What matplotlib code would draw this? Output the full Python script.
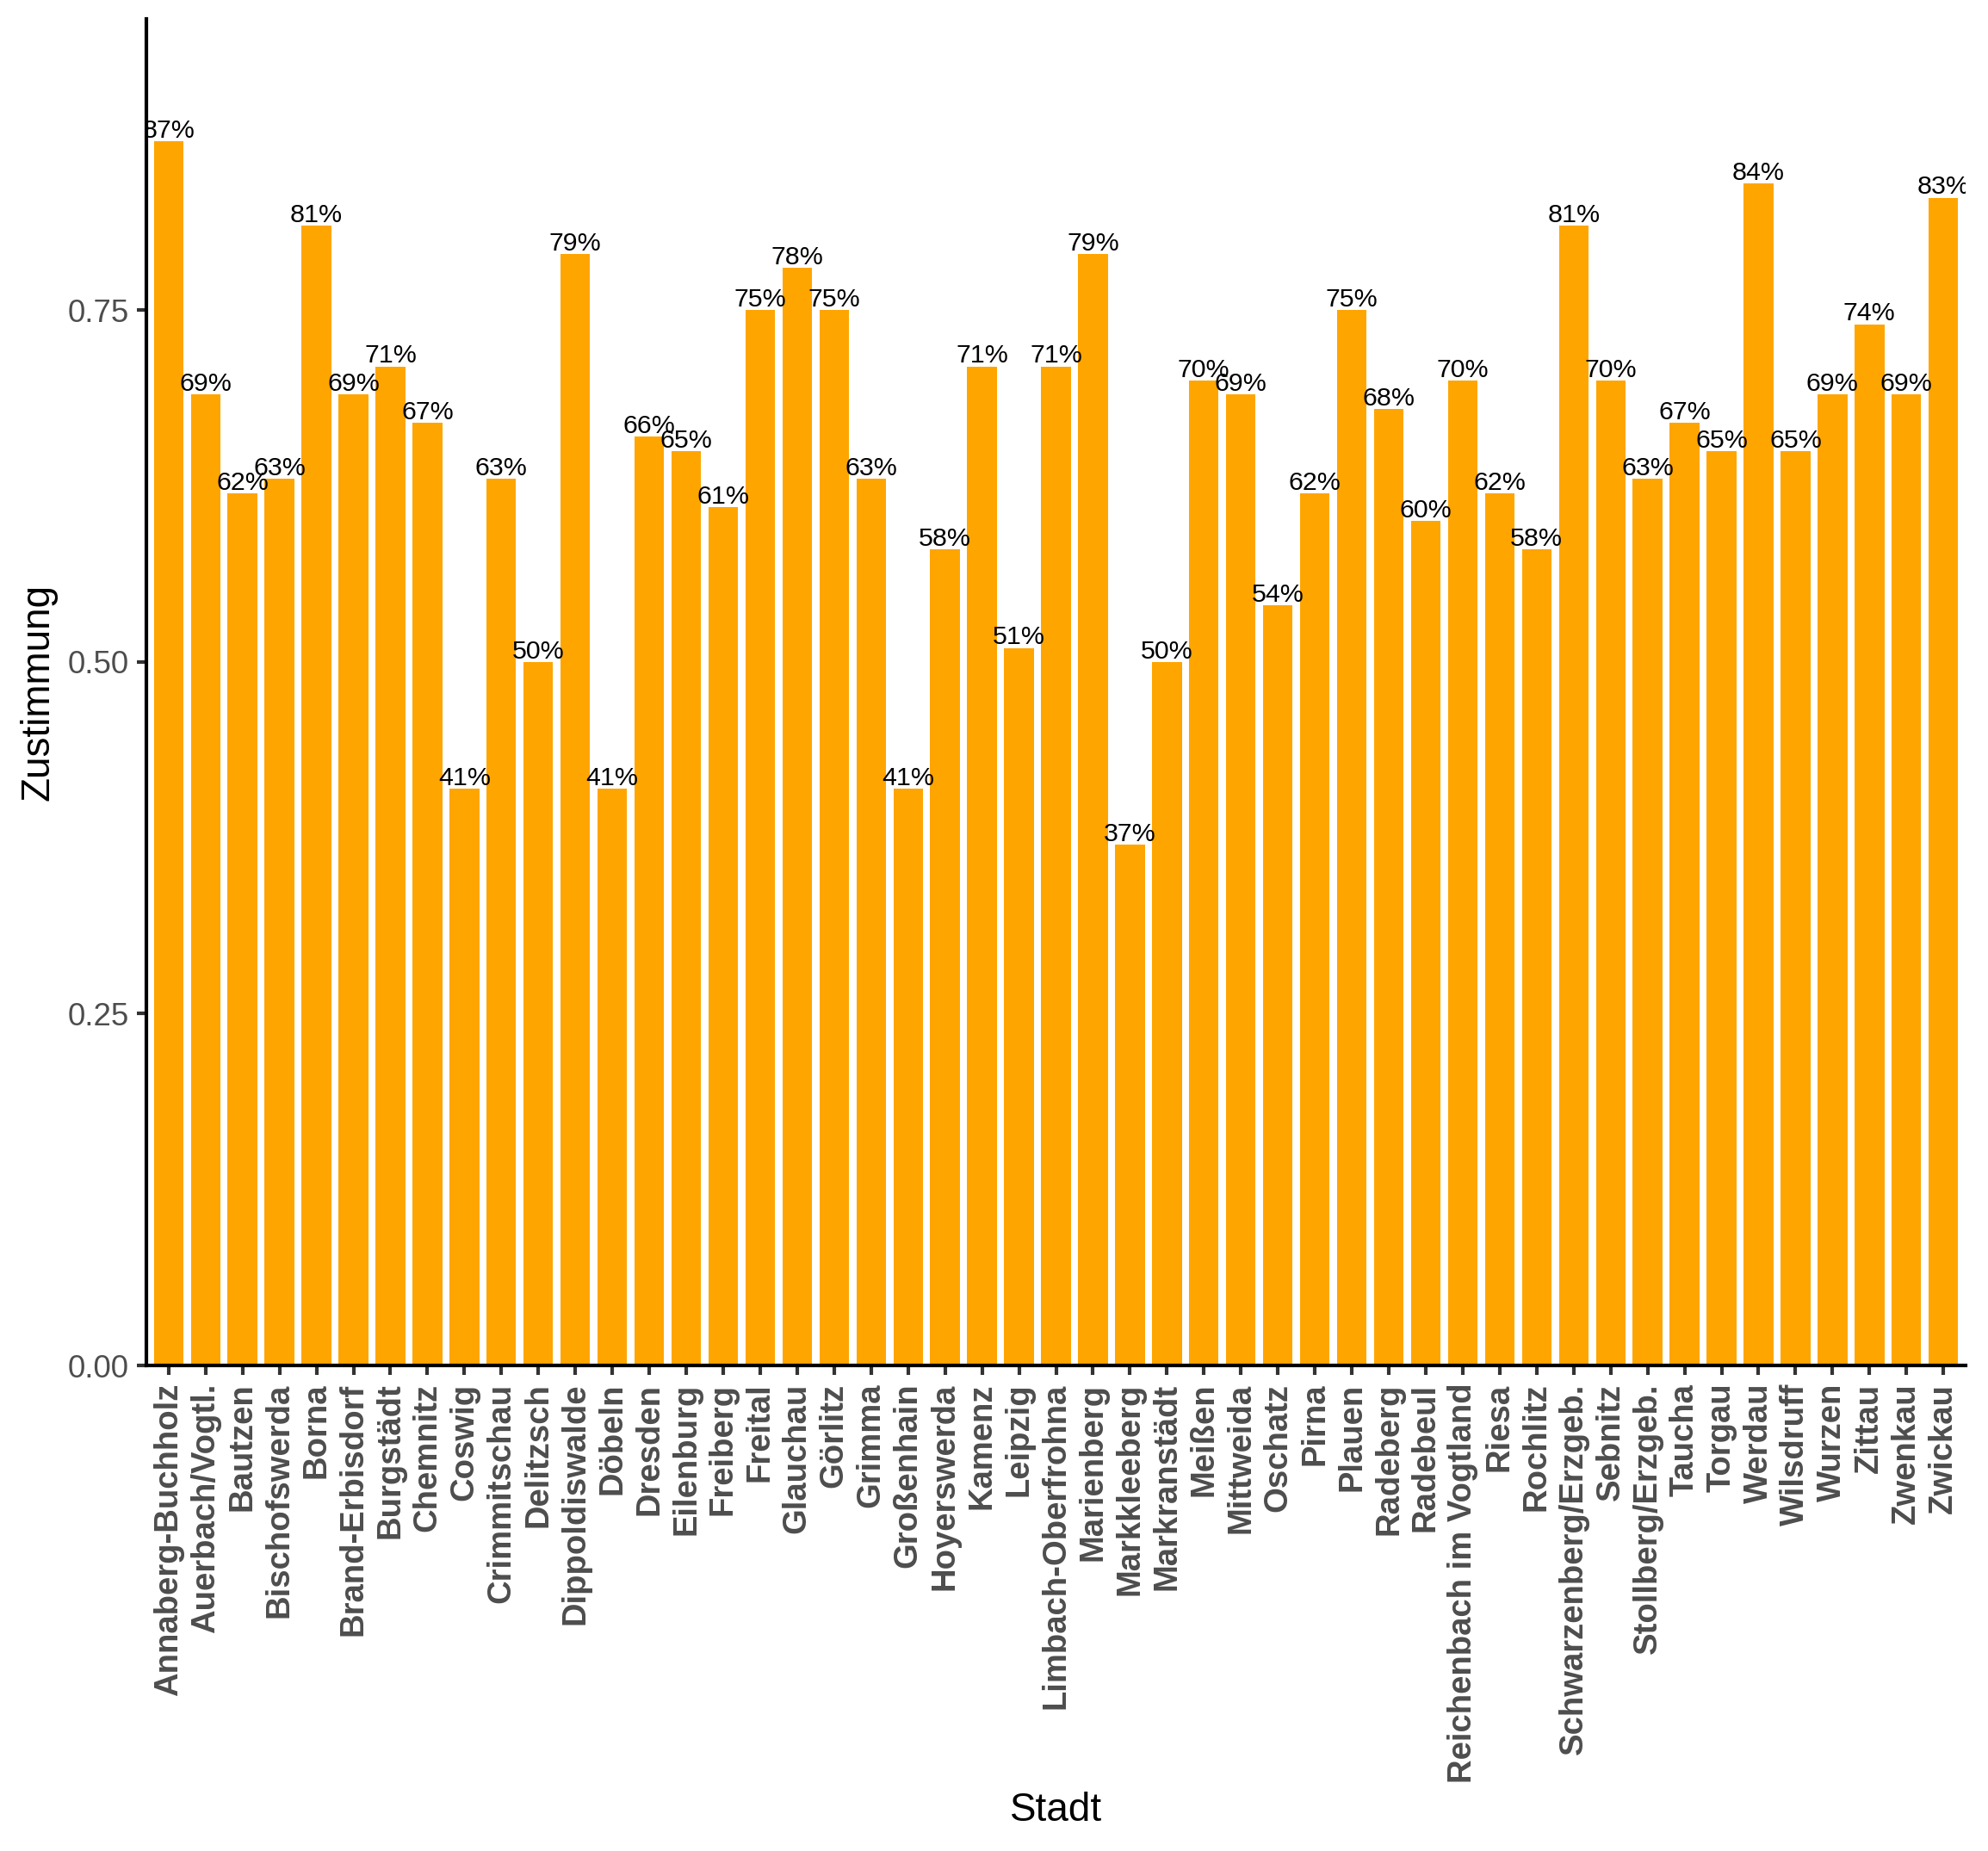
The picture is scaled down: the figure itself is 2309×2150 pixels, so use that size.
import matplotlib
matplotlib.use("Agg")
import matplotlib.pyplot as plt
import numpy as np

plt.rcParams['font.family'] = ['Liberation Sans', 'DejaVu Sans']

cities = ["Annaberg-Buchholz", "Auerbach/Vogtl.", "Bautzen", "Bischofswerda", "Borna",
          "Brand-Erbisdorf", "Burgstädt", "Chemnitz", "Coswig", "Crimmitschau", "Delitzsch",
          "Dippoldiswalde", "Döbeln", "Dresden", "Eilenburg", "Freiberg", "Freital", "Glauchau",
          "Görlitz", "Grimma", "Großenhain", "Hoyerswerda", "Kamenz", "Leipzig",
          "Limbach-Oberfrohna", "Marienberg", "Markkleeberg", "Markranstädt", "Meißen",
          "Mittweida", "Oschatz", "Pirna", "Plauen", "Radeberg", "Radebeul",
          "Reichenbach im Vogtland", "Riesa", "Rochlitz", "Schwarzenberg/Erzgeb.", "Sebnitz",
          "Stollberg/Erzgeb.", "Taucha", "Torgau", "Werdau", "Wilsdruff", "Wurzen", "Zittau",
          "Zwenkau", "Zwickau"]
values = [0.87, 0.69, 0.62, 0.63, 0.81, 0.69, 0.71, 0.67, 0.41, 0.63, 0.50,
          0.79, 0.41, 0.66, 0.65, 0.61, 0.75, 0.78, 0.75, 0.63, 0.41, 0.58,
          0.71, 0.51, 0.71, 0.79, 0.37, 0.50, 0.70, 0.69, 0.54, 0.62, 0.75,
          0.68, 0.60, 0.70, 0.62, 0.58, 0.81, 0.70, 0.63, 0.67, 0.65, 0.84,
          0.65, 0.69, 0.74, 0.69, 0.83]
y_ticks = [0.0, 0.25, 0.50, 0.75]
y_tick_labels = ["0.00", "0.25", "0.50", "0.75"]

W, H = 2309, 2150
dpi = 300
fig = plt.figure(figsize=(W / dpi, H / dpi), dpi=dpi)
left, right, top, bottom = 170, 2283, 22, 1586
ax = fig.add_axes([left / W, 1 - bottom / H, (right - left) / W, (bottom - top) / H])

x = np.arange(len(cities))
ax.bar(x, values, width=0.8, color="#FFA500", zorder=2)
for xi, v in zip(x, values):
    t = ax.annotate(f"{round(v*100)}%", (xi, v), xytext=(0, 1.0), textcoords="offset points",
                    ha="center", va="baseline", fontsize=7.3, color="black", clip_on=True, zorder=3)
    t.set_clip_path(ax.patch)

ax.set_xlim(-0.6, len(cities) - 1 + 0.6)
ax.set_ylim(0, 0.957)
ax.set_yticks(y_ticks)
ax.set_yticklabels(y_tick_labels)
ax.set_xticks(x)
ax.set_xticklabels(cities, rotation=90, ha="center", va="top", fontweight="bold")

for s in ["top", "right"]:
    ax.spines[s].set_visible(False)
for s in ["left", "bottom"]:
    ax.spines[s].set_linewidth(1.0)
    ax.spines[s].set_color("black")
    ax.spines[s].set_zorder(4)

ax.tick_params(axis="both", length=2.75, width=1.0, color="#333333", labelcolor="#4D4D4D",
               labelsize=8.8, pad=2.2)
ax.tick_params(axis="x", labelsize=9.2)

ax.set_xlabel("Stadt", fontsize=11, color="black")
ax.set_ylabel("Zustimmung", fontsize=11, color="black")
ax.xaxis.set_label_coords((1227 - left) / (right - left), -(2103 - bottom) / (bottom - top))
ax.xaxis.label.set_va("center")
ax.yaxis.set_label_coords(-(left - 44) / (right - left), 0.5)
ax.yaxis.label.set_va("center")

fig.savefig("out.png", dpi=dpi, facecolor="white")
